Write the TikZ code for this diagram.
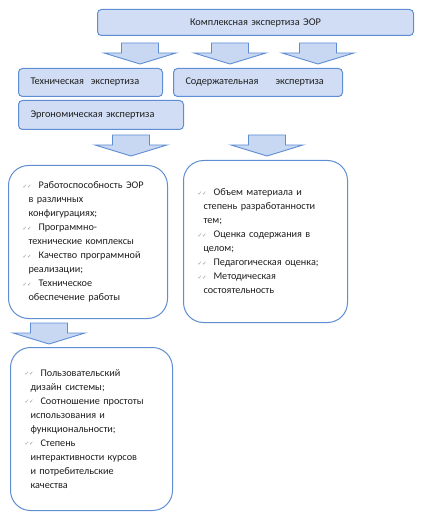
\documentclass[tikz,border=0pt]{standalone}
\usepackage{fontspec}
\setmainfont{Carlito}
\newfontfamily\dejavu{DejaVu Sans}
\usepackage{xcolor}
\usetikzlibrary{positioning}

\definecolor{boxblue}{HTML}{5F8DD3}
\definecolor{hdrfill}{HTML}{D0DDF5}
\definecolor{arrfill}{HTML}{C8D8F3}
\definecolor{chkgray}{HTML}{8E8E7E}
\definecolor{txtgray}{HTML}{1E1E1E}

\newcommand{\chk}{\makebox[16pt][l]{\dejavu\fontsize{5.5}{5.5}\selectfont\color{chkgray}\raisebox{0.5pt}{✓✓}}}
\newcommand{\nxt}{\hspace*{6pt}}

\tikzset{
  hdr/.style={draw=boxblue,fill=hdrfill,rounded corners=4pt,line width=1pt,
    anchor=north west,inner xsep=12pt,inner ysep=0pt,align=left,
    text=txtgray,font=\fontsize{10.3}{12}\selectfont},
  listbox/.style={draw=boxblue,fill=white,rounded corners=20pt,line width=1pt,
    anchor=north west,inner xsep=14pt,inner ysep=0pt,align=left,
    text=txtgray,font=\fontsize{10.2}{14}\selectfont},
  blockarrow/.pic={
    \draw[draw=boxblue,fill=arrfill,line width=0.9pt,line join=miter]
      (-18.5,0) -- (18.5,0) -- (18.5,10) -- (36,10) -- (0,21)
      -- (-36,10) -- (-18.5,10) -- cycle;
  }
}

\begin{document}
\begin{tikzpicture}[x=1pt,y=-1pt]
\useasboundingbox (0,0) rectangle (424,518);

% headers
\node[hdr,align=center,text width=292pt,minimum height=26pt] (complex) at (97,9)
  {Комплексная экспертиза ЭОР};
\node[hdr,text width=120pt,minimum height=28pt] (tech) at (18,68)
  {Техническая\ \ экспертиза};
\node[hdr,text width=145pt,minimum height=28pt] (content) at (173,68)
  {Содержательная \ \ \ \ экспертиза};
\node[hdr,text width=141pt,minimum height=29pt] (ergo) at (18,100)
  {Эргономическая экспертиза};

% arrows
\pic at (140,43) {blockarrow};
\pic at (230,43) {blockarrow};
\pic at (318,43) {blockarrow};
\pic at (131,135) {blockarrow};
\pic at (267,135) {blockarrow};
\pic at (49,323) {blockarrow};

% lists
\node[listbox,text width=131pt,minimum height=153pt] (techlist) at (8,165)
  {\chk Работоспособность ЭОР\\
   \nxt в различных\\
   \nxt конфигурациях;\\
   \chk Программно-\\
   \nxt технические комплексы\\
   \chk Качество программной\\
   \nxt реализации;\\
   \chk Техническое\\
   \nxt обеспечение работы};
\node[listbox,text width=136pt,minimum height=162pt] (contlist) at (183,160)
  {\chk Объем материала и\\
   \nxt степень разработанности\\
   \nxt тем;\\
   \chk Оценка содержания в\\
   \nxt целом;\\
   \chk Педагогическая оценка;\\
   \chk Методическая\\
   \nxt состоятельность};
\node[listbox,text width=134pt,minimum height=163pt] (ergolist) at (10,347)
  {\chk Пользовательский\\
   \nxt дизайн системы;\\
   \chk Соотношение простоты\\
   \nxt использования и\\
   \nxt функциональности;\\
   \chk Степень\\
   \nxt интерактивности курсов\\
   \nxt и потребительские\\
   \nxt качества};
\end{tikzpicture}
\end{document}
